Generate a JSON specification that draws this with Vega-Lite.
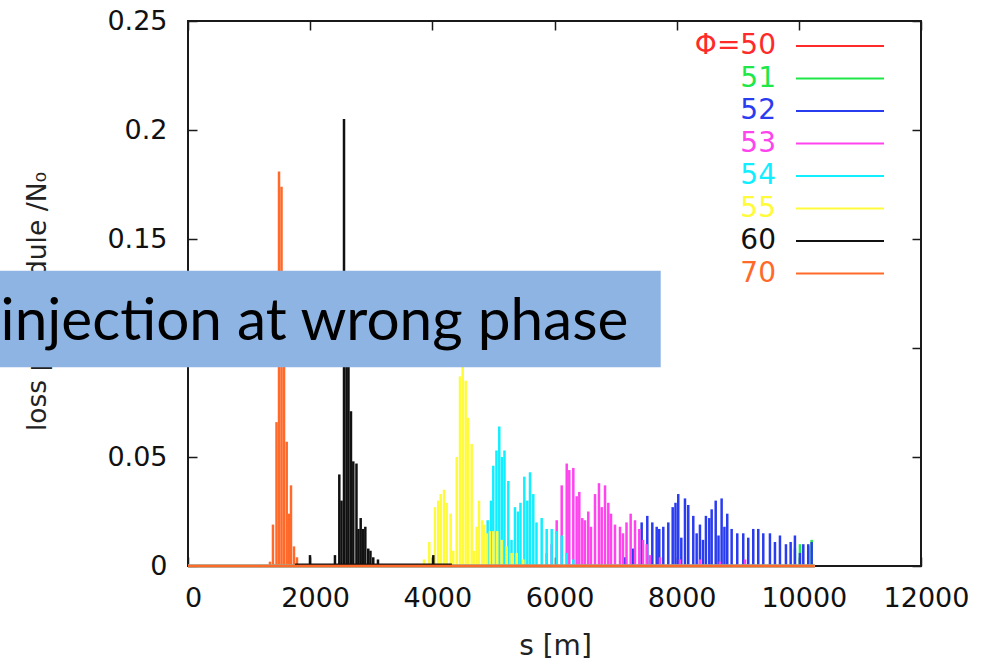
{
  "$schema": "https://vega.github.io/schema/vega-lite/v6.json",
  "width": 733,
  "height": 545,
  "autosize": "none",
  "padding": {"left": 188, "top": 21, "right": 67, "bottom": 99},
  "background": "white",
  "config": {
    "view": {"stroke": "#1a1a1a", "strokeWidth": 2},
    "font": "DejaVu Sans",
    "axis": {
      "grid": false, "domain": false, "tickColor": "#1a1a1a", "tickWidth": 1.5, "tickSize": -9,
      "labelFont": "DejaVu Sans", "labelFontSize": 27, "labelColor": "#111111", "labelOverlap": false, "labelFlush": false,
      "titleFont": "DejaVu Sans", "titleFontSize": 28, "titleFontWeight": "normal", "titleColor": "#222222"
    }
  },
  "datasets": {
    "spikes": [
      {"phi": "51", "s": 9936, "v": 0.008}, {"phi": "51", "s": 10018, "v": 0.010}, {"phi": "51", "s": 10154, "v": 0.009}, {"phi": "51", "s": 10210, "v": 0.012},
      {"phi": "52", "s": 7154, "v": 0.004}, {"phi": "52", "s": 7285, "v": 0.008}, {"phi": "52", "s": 7427, "v": 0.020}, {"phi": "52", "s": 7519, "v": 0.023},
      {"phi": "52", "s": 7601, "v": 0.020}, {"phi": "52", "s": 7673, "v": 0.018}, {"phi": "52", "s": 7715, "v": 0.017}, {"phi": "52", "s": 7781, "v": 0.018},
      {"phi": "52", "s": 7863, "v": 0.020}, {"phi": "52", "s": 7935, "v": 0.027}, {"phi": "52", "s": 7981, "v": 0.029}, {"phi": "52", "s": 8026, "v": 0.033},
      {"phi": "52", "s": 8076, "v": 0.013}, {"phi": "52", "s": 8136, "v": 0.031}, {"phi": "52", "s": 8190, "v": 0.028}, {"phi": "52", "s": 8272, "v": 0.023},
      {"phi": "52", "s": 8327, "v": 0.015}, {"phi": "52", "s": 8381, "v": 0.019}, {"phi": "52", "s": 8431, "v": 0.012}, {"phi": "52", "s": 8479, "v": 0.023},
      {"phi": "52", "s": 8534, "v": 0.022}, {"phi": "52", "s": 8573, "v": 0.026}, {"phi": "52", "s": 8639, "v": 0.030}, {"phi": "52", "s": 8685, "v": 0.014},
      {"phi": "52", "s": 8736, "v": 0.031}, {"phi": "52", "s": 8782, "v": 0.018}, {"phi": "52", "s": 8828, "v": 0.024}, {"phi": "52", "s": 8900, "v": 0.017},
      {"phi": "52", "s": 8992, "v": 0.015}, {"phi": "52", "s": 9090, "v": 0.015}, {"phi": "52", "s": 9172, "v": 0.013}, {"phi": "52", "s": 9254, "v": 0.017},
      {"phi": "52", "s": 9336, "v": 0.017}, {"phi": "52", "s": 9418, "v": 0.015}, {"phi": "52", "s": 9527, "v": 0.015}, {"phi": "52", "s": 9609, "v": 0.011},
      {"phi": "52", "s": 9691, "v": 0.014}, {"phi": "52", "s": 9789, "v": 0.010}, {"phi": "52", "s": 9866, "v": 0.011}, {"phi": "52", "s": 9936, "v": 0.014},
      {"phi": "52", "s": 10018, "v": 0.006}, {"phi": "52", "s": 10073, "v": 0.010}, {"phi": "52", "s": 10154, "v": 0.010}, {"phi": "52", "s": 10210, "v": 0.011},
      {"phi": "53", "s": 5872, "v": 0.006}, {"phi": "53", "s": 5954, "v": 0.010}, {"phi": "53", "s": 6036, "v": 0.021}, {"phi": "53", "s": 6118, "v": 0.037},
      {"phi": "53", "s": 6200, "v": 0.047}, {"phi": "53", "s": 6242, "v": 0.044}, {"phi": "53", "s": 6308, "v": 0.045}, {"phi": "53", "s": 6363, "v": 0.032},
      {"phi": "53", "s": 6406, "v": 0.034}, {"phi": "53", "s": 6455, "v": 0.022}, {"phi": "53", "s": 6499, "v": 0.021}, {"phi": "53", "s": 6553, "v": 0.025},
      {"phi": "53", "s": 6597, "v": 0.018}, {"phi": "53", "s": 6663, "v": 0.033}, {"phi": "53", "s": 6728, "v": 0.038}, {"phi": "53", "s": 6773, "v": 0.027},
      {"phi": "53", "s": 6827, "v": 0.037}, {"phi": "53", "s": 6881, "v": 0.029}, {"phi": "53", "s": 6925, "v": 0.024}, {"phi": "53", "s": 6990, "v": 0.019},
      {"phi": "53", "s": 7072, "v": 0.018}, {"phi": "53", "s": 7121, "v": 0.015}, {"phi": "53", "s": 7179, "v": 0.020}, {"phi": "53", "s": 7247, "v": 0.024},
      {"phi": "53", "s": 7318, "v": 0.021}, {"phi": "53", "s": 7388, "v": 0.017}, {"phi": "53", "s": 7449, "v": 0.012}, {"phi": "53", "s": 7509, "v": 0.010},
      {"phi": "53", "s": 7563, "v": 0.005}, {"phi": "53", "s": 7727, "v": 0.004}, {"phi": "53", "s": 8054, "v": 0.003}, {"phi": "53", "s": 8382, "v": 0.003},
      {"phi": "53", "s": 8709, "v": 0.002}, {"phi": "53", "s": 9119, "v": 0.003},
      {"phi": "54", "s": 4906, "v": 0.021}, {"phi": "54", "s": 4960, "v": 0.030}, {"phi": "54", "s": 4998, "v": 0.046}, {"phi": "54", "s": 5050, "v": 0.053},
      {"phi": "54", "s": 5096, "v": 0.064}, {"phi": "54", "s": 5141, "v": 0.050}, {"phi": "54", "s": 5181, "v": 0.053}, {"phi": "54", "s": 5244, "v": 0.039},
      {"phi": "54", "s": 5296, "v": 0.012}, {"phi": "54", "s": 5353, "v": 0.027}, {"phi": "54", "s": 5402, "v": 0.025}, {"phi": "54", "s": 5443, "v": 0.029},
      {"phi": "54", "s": 5506, "v": 0.041}, {"phi": "54", "s": 5555, "v": 0.030}, {"phi": "54", "s": 5599, "v": 0.043}, {"phi": "54", "s": 5653, "v": 0.033},
      {"phi": "54", "s": 5705, "v": 0.020}, {"phi": "54", "s": 5790, "v": 0.022}, {"phi": "54", "s": 5872, "v": 0.017}, {"phi": "54", "s": 5954, "v": 0.017},
      {"phi": "54", "s": 6036, "v": 0.016}, {"phi": "54", "s": 6118, "v": 0.014}, {"phi": "54", "s": 6200, "v": 0.006}, {"phi": "54", "s": 6308, "v": 0.003},
      {"phi": "55", "s": 3863, "v": 0.003}, {"phi": "55", "s": 3950, "v": 0.011}, {"phi": "55", "s": 4043, "v": 0.027}, {"phi": "55", "s": 4097, "v": 0.030},
      {"phi": "55", "s": 4137, "v": 0.033}, {"phi": "55", "s": 4191, "v": 0.035}, {"phi": "55", "s": 4235, "v": 0.029}, {"phi": "55", "s": 4300, "v": 0.024},
      {"phi": "55", "s": 4343, "v": 0.007}, {"phi": "55", "s": 4399, "v": 0.050}, {"phi": "55", "s": 4453, "v": 0.087}, {"phi": "55", "s": 4497, "v": 0.092},
      {"phi": "55", "s": 4546, "v": 0.085}, {"phi": "55", "s": 4588, "v": 0.068}, {"phi": "55", "s": 4644, "v": 0.056}, {"phi": "55", "s": 4682, "v": 0.007},
      {"phi": "55", "s": 4726, "v": 0.018}, {"phi": "55", "s": 4764, "v": 0.030}, {"phi": "55", "s": 4818, "v": 0.021}, {"phi": "55", "s": 4850, "v": 0.019},
      {"phi": "55", "s": 4890, "v": 0.015}, {"phi": "55", "s": 4944, "v": 0.016}, {"phi": "55", "s": 4998, "v": 0.016}, {"phi": "55", "s": 5063, "v": 0.016},
      {"phi": "55", "s": 5135, "v": 0.012}, {"phi": "55", "s": 5217, "v": 0.009}, {"phi": "55", "s": 5299, "v": 0.006}, {"phi": "55", "s": 5381, "v": 0.006},
      {"phi": "55", "s": 5489, "v": 0.003},
      {"phi": "60", "s": 1997, "v": 0.005}, {"phi": "60", "s": 2406, "v": 0.005}, {"phi": "60", "s": 2477, "v": 0.042}, {"phi": "60", "s": 2513, "v": 0.030},
      {"phi": "60", "s": 2554, "v": 0.205}, {"phi": "60", "s": 2595, "v": 0.130}, {"phi": "60", "s": 2627, "v": 0.110}, {"phi": "60", "s": 2668, "v": 0.071},
      {"phi": "60", "s": 2706, "v": 0.048}, {"phi": "60", "s": 2758, "v": 0.047}, {"phi": "60", "s": 2791, "v": 0.017}, {"phi": "60", "s": 2827, "v": 0.022},
      {"phi": "60", "s": 2865, "v": 0.017}, {"phi": "60", "s": 2903, "v": 0.018}, {"phi": "60", "s": 2951, "v": 0.008}, {"phi": "60", "s": 2987, "v": 0.007},
      {"phi": "60", "s": 3033, "v": 0.004}, {"phi": "60", "s": 3110, "v": 0.003}, {"phi": "60", "s": 4016, "v": 0.005},
      {"phi": "70", "s": 1342, "v": 0.002}, {"phi": "70", "s": 1391, "v": 0.019}, {"phi": "70", "s": 1449, "v": 0.066}, {"phi": "70", "s": 1490, "v": 0.181},
      {"phi": "70", "s": 1531, "v": 0.174}, {"phi": "70", "s": 1572, "v": 0.100}, {"phi": "70", "s": 1616, "v": 0.057}, {"phi": "70", "s": 1654, "v": 0.024},
      {"phi": "70", "s": 1686, "v": 0.037}, {"phi": "70", "s": 1735, "v": 0.009}, {"phi": "70", "s": 1784, "v": 0.004}
    ],
    "base": [
      {"phi": "50", "s0": 0, "s1": 10260, "v": 0},
      {"phi": "51", "s0": 0, "s1": 10260, "v": 0},
      {"phi": "52", "s0": 0, "s1": 10260, "v": 0},
      {"phi": "53", "s0": 0, "s1": 10260, "v": 0},
      {"phi": "54", "s0": 0, "s1": 10260, "v": 0},
      {"phi": "55", "s0": 0, "s1": 10260, "v": 0},
      {"phi": "60", "s0": 1750, "s1": 4320, "v": 0.0006},
      {"phi": "70", "s0": 0, "s1": 10260, "v": 0}
    ],
    "box": [{"x0": -3078, "x1": 7739, "y0": 0.09115, "y1": 0.13546}],
    "note": [{"x": -3068, "y": 0.1037, "label": "injection at wrong phase"}]
  },
  "layer": [
    {
      "data": {"name": "spikes"},
      "mark": {"type": "rule", "strokeWidth": 2.5},
      "encoding": {
        "x": {
          "field": "s", "type": "quantitative",
          "scale": {"domain": [0, 12000], "nice": false},
          "axis": {
            "orient": "bottom", "values": [0, 2000, 4000, 6000, 8000, 10000, 12000], "format": "d",
            "labelPadding": 28, "labelOffset": 5, "title": "s [m]",
            "titleX": 367, "titleY": 88, "titleBaseline": "alphabetic", "titleAlign": "center"
          }
        },
        "y": {
          "field": "v", "type": "quantitative",
          "scale": {"domain": [0, 0.25], "nice": false},
          "axis": {
            "orient": "left", "values": [0, 0.05, 0.1, 0.15, 0.2, 0.25], "format": "~g",
            "labelPadding": 30, "title": "loss per module /N₀", "titleFontSize": 26.5,
            "titleX": -151, "titleY": 280, "titleAngle": -90, "titleAlign": "center", "titleBaseline": "middle"
          }
        },
        "y2": {"datum": 0},
        "color": {
          "field": "phi", "type": "nominal",
          "scale": {
            "domain": ["50", "51", "52", "53", "54", "55", "60", "70"],
            "range": ["#ff2a2a", "#1ee847", "#2a3cf0", "#ff44ee", "#11eeff", "#fffb3a", "#111111", "#ff6a2a"]
          },
          "legend": {
            "orient": "none", "legendX": 508, "legendY": 25, "title": null,
            "symbolType": "stroke", "symbolStrokeWidth": 2, "symbolSize": 7744,
            "labelFont": "DejaVu Sans", "labelFontSize": 28, "rowPadding": 4.5,
            "labelExpr": "datum.label == '50' ? 'Φ=50' : datum.label",
            "encode": {
              "symbols": {"update": {"x": {"value": 144}, "y": {"value": 0}, "strokeWidth": {"value": 2}}},
              "labels": {"update": {"x": {"value": 80}, "y": {"value": 0}, "align": {"value": "right"}, "baseline": {"value": "middle"}, "fill": {"scale": "color", "field": "value"}}}
            }
          }
        }
      }
    },
    {
      "data": {"name": "base"},
      "mark": {"type": "rule", "strokeWidth": 2.5},
      "encoding": {
        "x": {"field": "s0", "type": "quantitative", "axis": null},
        "x2": {"field": "s1"},
        "y": {"field": "v", "type": "quantitative", "axis": null},
        "color": {"field": "phi", "type": "nominal", "legend": null}
      }
    },
    {
      "data": {"name": "base"},
      "mark": {"type": "point", "opacity": 0},
      "encoding": {
        "x": {"field": "s0", "type": "quantitative", "axis": {"orient": "top", "values": [0, 2000, 4000, 6000, 8000, 10000, 12000], "labels": false, "title": null}},
        "y": {"field": "v", "type": "quantitative", "axis": {"orient": "right", "values": [0, 0.05, 0.1, 0.15, 0.2, 0.25], "labels": false, "title": null}}
      }
    },
    {
      "data": {"name": "box"},
      "mark": {"type": "rect", "color": "#8eb4e3", "clip": false},
      "encoding": {
        "x": {"field": "x0", "type": "quantitative", "axis": null},
        "x2": {"field": "x1"},
        "y": {"field": "y0", "type": "quantitative", "axis": null},
        "y2": {"field": "y1"}
      }
    },
    {
      "data": {"name": "note"},
      "mark": {"type": "text", "font": "Lato", "fontSize": 58.5, "align": "left", "baseline": "alphabetic", "color": "#000000"},
      "encoding": {
        "x": {"field": "x", "type": "quantitative", "axis": null},
        "y": {"field": "y", "type": "quantitative", "axis": null},
        "text": {"field": "label"}
      }
    }
  ],
  "resolve": {"axis": {"x": "independent", "y": "independent"}}
}
